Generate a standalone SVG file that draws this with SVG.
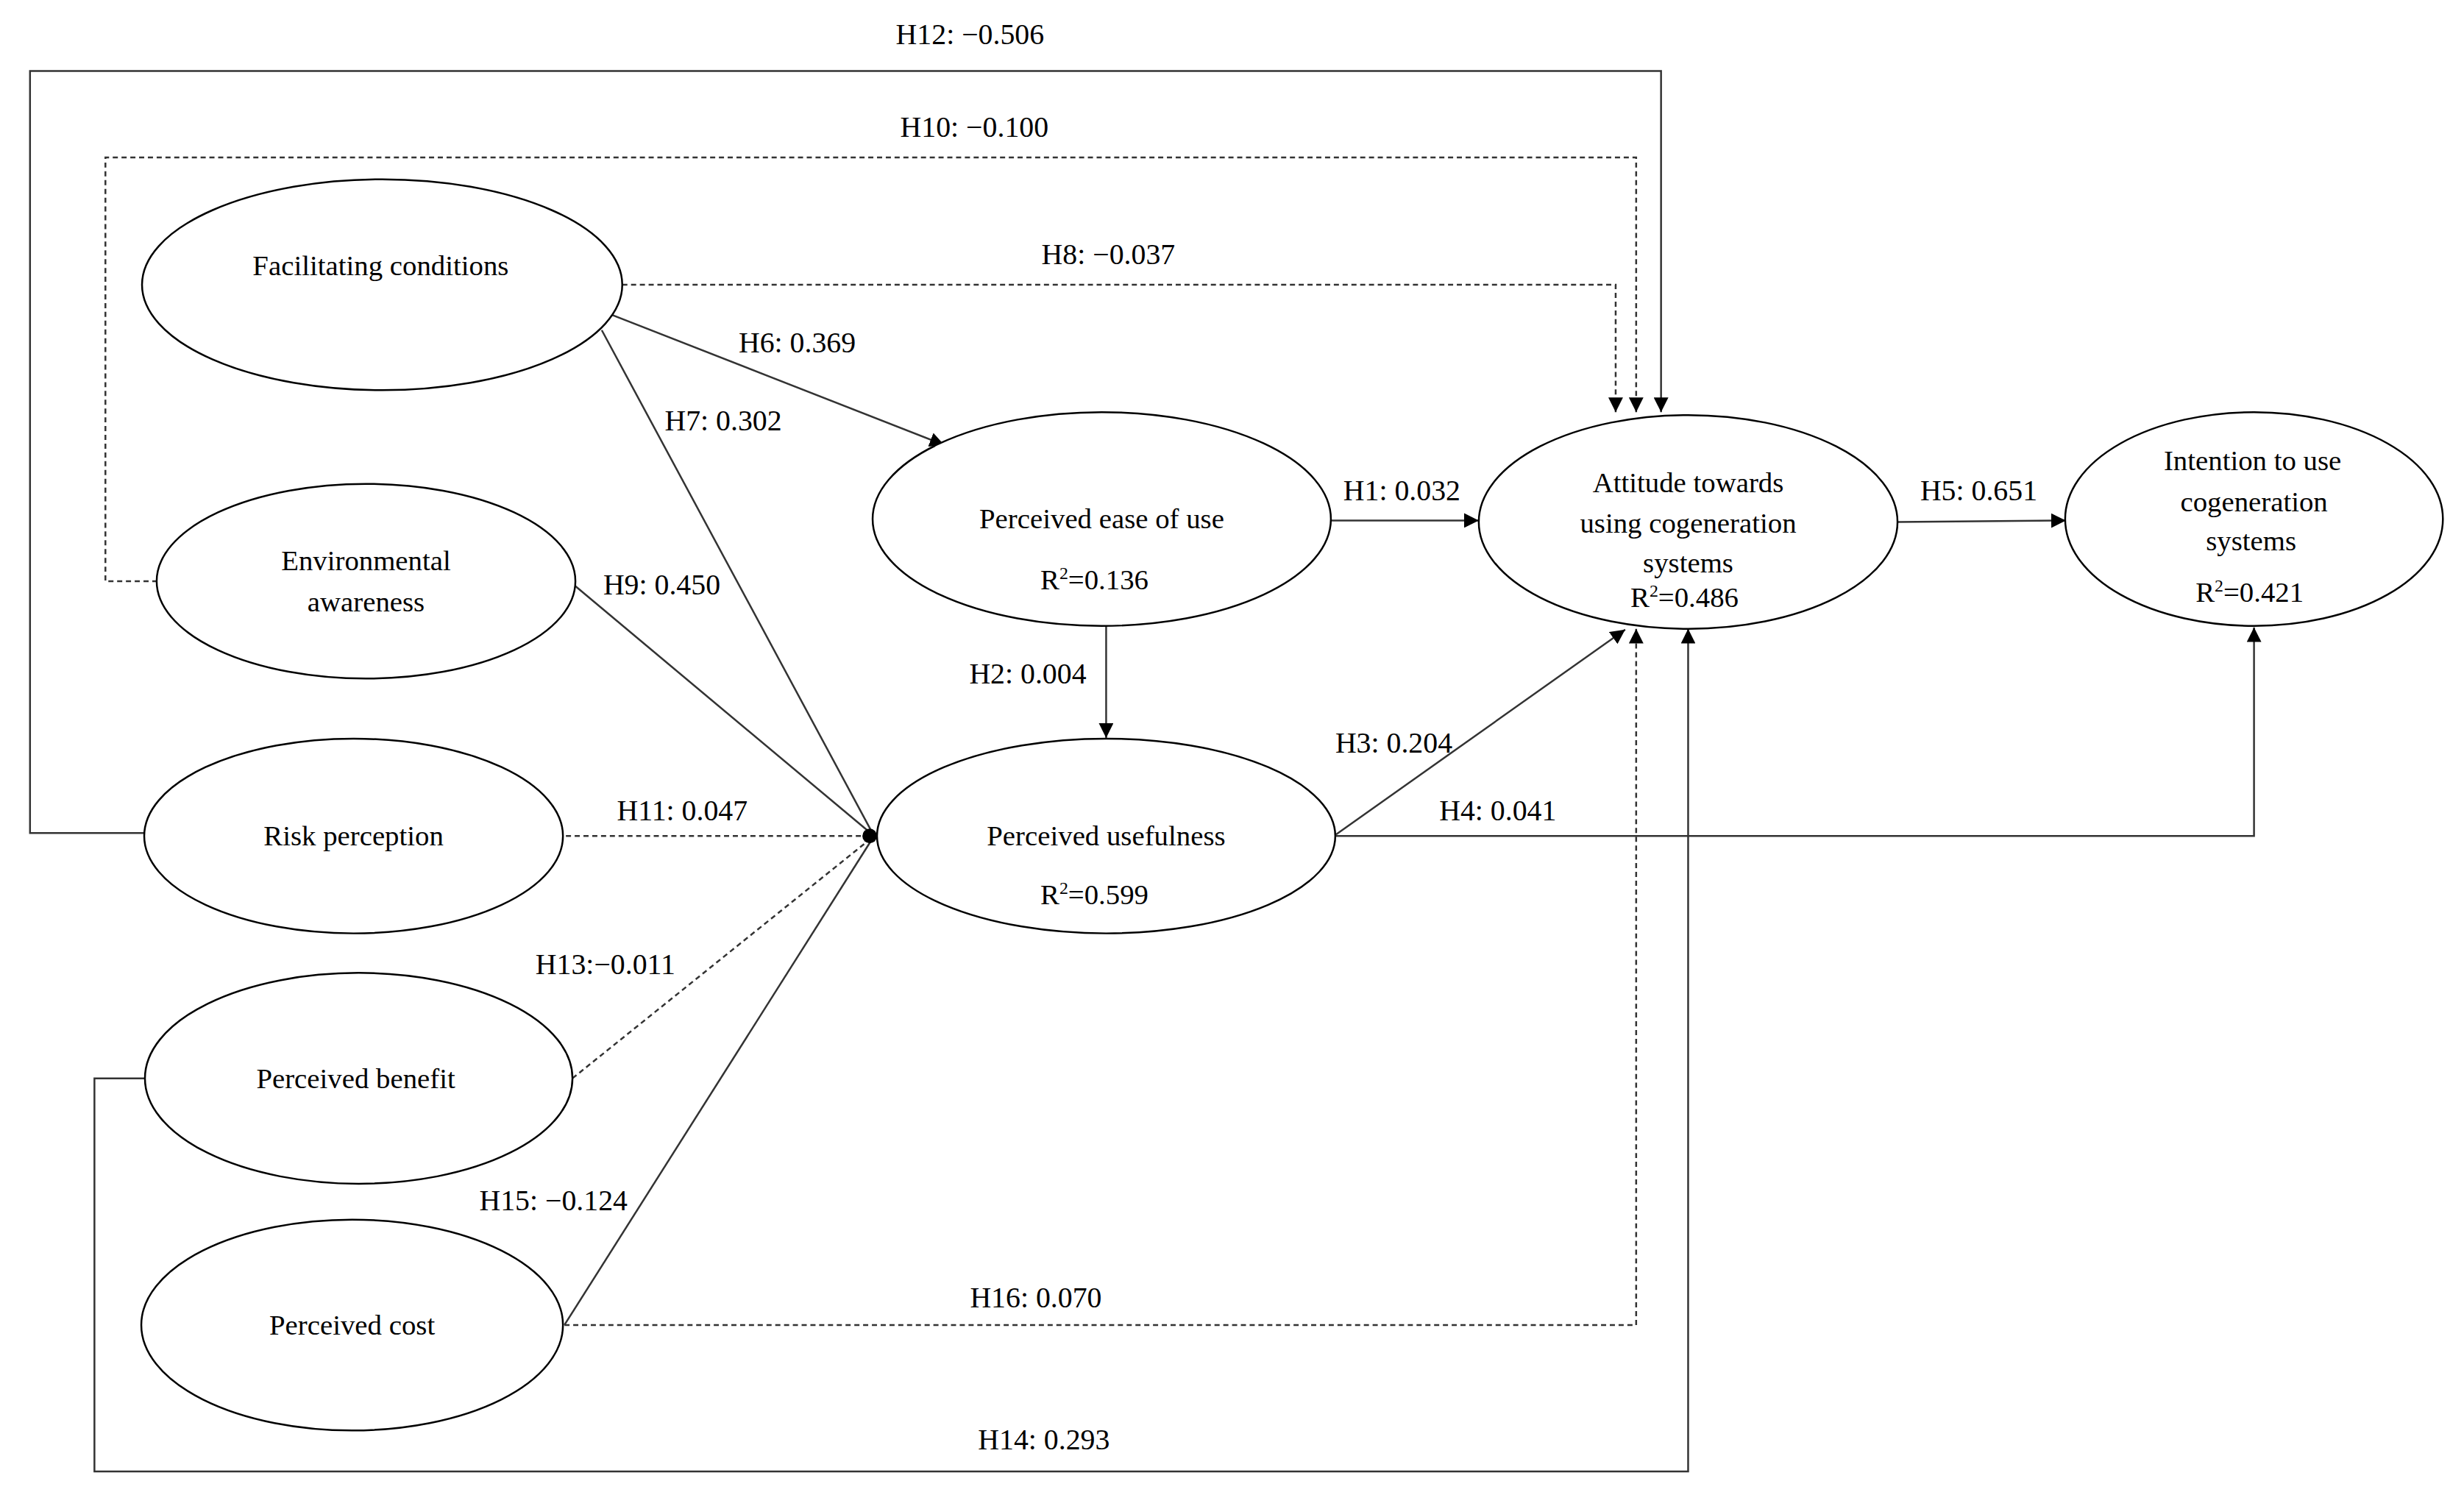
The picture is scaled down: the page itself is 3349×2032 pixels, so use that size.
<svg xmlns="http://www.w3.org/2000/svg" width="3349" height="2032" viewBox="0 0 3349 2032">
<style>
text{font-family:"Liberation Serif","Times New Roman",serif;fill:#000}
.n{font-size:39px;text-anchor:middle}
.l{font-size:40px;text-anchor:middle}
ellipse{fill:#fff;stroke:#000;stroke-width:2.5}
.c{fill:none;stroke:#333;stroke-width:2.5}
.d{stroke-dasharray:7,5}
</style>
<defs>
<marker id="a" viewBox="0 0 10 10" refX="10" refY="5" markerWidth="8" markerHeight="8" markerUnits="strokeWidth" orient="auto"><path d="M0,0L10,5L0,10z" fill="#000"/></marker>
</defs>
<rect width="3349" height="2032" fill="#fff"/>
<g transform="scale(0.995)">
<g id="connectors">
<polyline class="c" points="198,1138 41,1138 41,97 2269,97 2269,563" marker-end="url(#a)"/>
<polyline class="c d" points="215,794 144,794 144,215 2235,215 2235,563" marker-end="url(#a)"/>
<polyline class="c d" points="850,389 2207,389 2207,563" marker-end="url(#a)"/>
<line class="c" x1="833" y1="429" x2="1290" y2="608" marker-end="url(#a)"/>
<line class="c" x1="822" y1="451" x2="1194" y2="1142"/>
<line class="c" x1="784" y1="799" x2="1194" y2="1142"/>
<line class="c d" x1="773" y1="1142" x2="1190" y2="1142"/>
<line class="c d" x1="782" y1="1473" x2="1194" y2="1142"/>
<line class="c" x1="771" y1="1810" x2="1194" y2="1142"/>
<circle cx="1188" cy="1142" r="10" fill="#000"/>
<line class="c" x1="1818" y1="711" x2="2020" y2="711" marker-end="url(#a)"/>
<line class="c" x1="1511" y1="855" x2="1511" y2="1008" marker-end="url(#a)"/>
<line class="c" x1="1825" y1="1140" x2="2220" y2="860" marker-end="url(#a)"/>
<polyline class="c" points="1825,1142 3079,1142 3079,857" marker-end="url(#a)"/>
<line class="c" x1="2592" y1="713" x2="2822" y2="711" marker-end="url(#a)"/>
<polyline class="c d" points="771,1810 2235,1810 2235,859" marker-end="url(#a)"/>
<polyline class="c" points="198,1473 129,1473 129,2010 2306,2010 2306,859" marker-end="url(#a)"/>
<text class="l" x="1325" y="60">H12: −0.506</text>
<text class="l" x="1331" y="187">H10: −0.100</text>
<text class="l" x="1514" y="361">H8: −0.037</text>
<text class="l" x="1089" y="481">H6: 0.369</text>
<text class="l" x="988" y="588">H7: 0.302</text>
<text class="l" x="904" y="812">H9: 0.450</text>
<text class="l" x="932" y="1121">H11: 0.047</text>
<text class="l" x="827" y="1331">H13:−0.011</text>
<text class="l" x="756" y="1653">H15: −0.124</text>
<text class="l" x="1915" y="683">H1: 0.032</text>
<text class="l" x="1404" y="934">H2: 0.004</text>
<text class="l" x="1904" y="1028">H3: 0.204</text>
<text class="l" x="2046" y="1121">H4: 0.041</text>
<text class="l" x="2703" y="683">H5: 0.651</text>
<text class="l" x="1415" y="1786">H16: 0.070</text>
<text class="l" x="1426" y="1980">H14: 0.293</text>
</g>
<g id="fc"><ellipse cx="522" cy="389" rx="328" ry="144"/><text class="n" x="520" y="376">Facilitating  conditions</text></g>
<g id="ea"><ellipse cx="500" cy="794" rx="286" ry="133"/><text class="n" x="500" y="779">Environmental</text><text class="n" x="500" y="835">awareness</text></g>
<g id="rp"><ellipse cx="483" cy="1142" rx="286" ry="133"/><text class="n" x="483" y="1155">Risk perception</text></g>
<g id="pb"><ellipse cx="490" cy="1473" rx="292" ry="144"/><text class="n" x="486" y="1486">Perceived benefit</text></g>
<g id="pc"><ellipse cx="481" cy="1810" rx="288" ry="144"/><text class="n" x="481" y="1823">Perceived cost</text></g>
<g id="peu"><ellipse cx="1505" cy="709" rx="313" ry="146"/><text class="n" x="1505" y="722">Perceived ease of use</text><text class="n" x="1495" y="805">R<tspan font-size="24" dy="-14">2</tspan><tspan dy="14">=0.136</tspan></text></g>
<g id="pu"><ellipse cx="1511" cy="1142" rx="313" ry="133"/><text class="n" x="1511" y="1155">Perceived usefulness</text><text class="n" x="1495" y="1235">R<tspan font-size="24" dy="-14">2</tspan><tspan dy="14">=0.599</tspan></text></g>
<g id="att"><ellipse cx="2306" cy="713" rx="286" ry="146"/><text class="n" x="2306" y="672">Attitude  towards</text><text class="n" x="2306" y="728">using  cogeneration</text><text class="n" x="2306" y="782">systems</text><text class="n" x="2301" y="829">R<tspan font-size="24" dy="-14">2</tspan><tspan dy="14">=0.486</tspan></text></g>
<g id="int"><ellipse cx="3079" cy="709" rx="258" ry="146"/><text class="n" x="3077" y="642">Intention  to use</text><text class="n" x="3079" y="698">cogeneration</text><text class="n" x="3075" y="752">systems</text><text class="n" x="3073" y="822">R<tspan font-size="24" dy="-14">2</tspan><tspan dy="14">=0.421</tspan></text></g>
</g>
</svg>
